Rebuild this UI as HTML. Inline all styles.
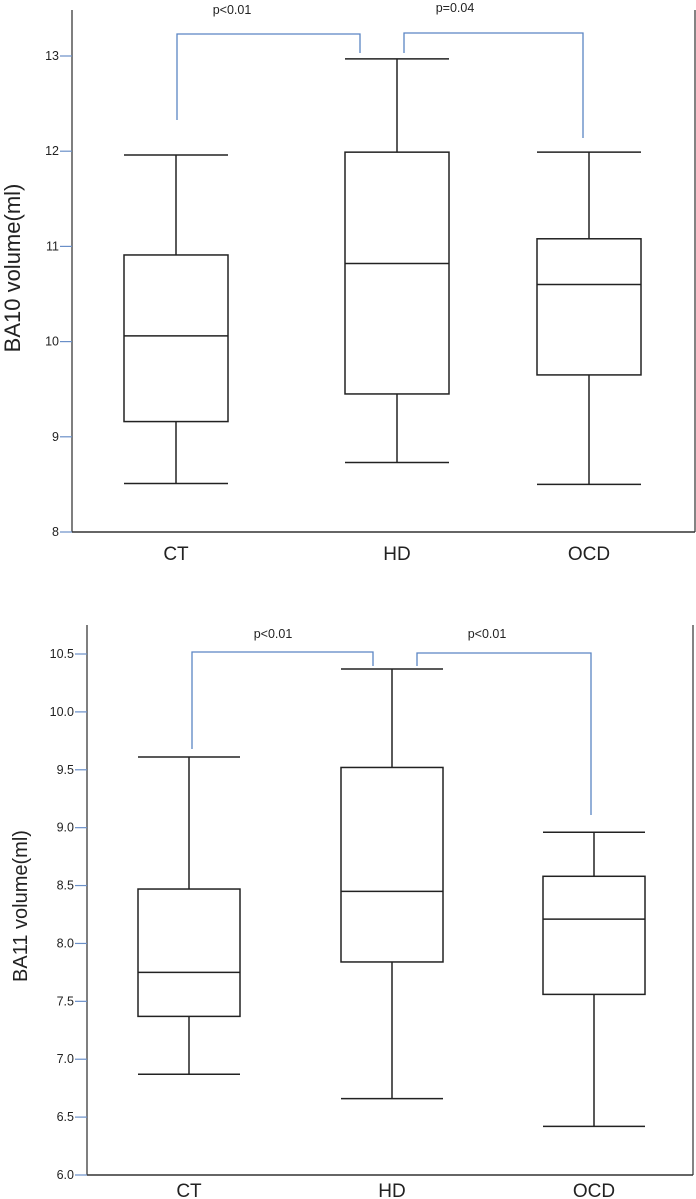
<!DOCTYPE html>
<html><head><meta charset="utf-8"><style>
html,body{margin:0;padding:0;background:#fff;}
svg{display:block;font-family:"Liberation Sans","Noto Sans CJK JP",sans-serif;}
</style></head><body>
<svg id="svg" width="696" height="1199" viewBox="0 0 696 1199"></svg>
<script>
const categories = ["CT","HD","OCD"];
// top chart BA10
const ba10Min = [8.51, 8.73, 8.50];
const ba10Q1 = [9.16, 9.45, 9.65];
const ba10Med = [10.06, 10.82, 10.60];
const ba10Q3 = [10.91, 11.99, 11.08];
const ba10Max = [11.96, 12.97, 11.99];
const ba10Ticks = [8, 9, 10, 11, 12, 13];
// bottom chart BA11
const ba11Min = [6.87, 6.66, 6.42];
const ba11Q1 = [7.37, 7.84, 7.56];
const ba11Med = [7.75, 8.45, 8.21];
const ba11Q3 = [8.47, 9.52, 8.58];
const ba11Max = [9.61, 10.37, 8.96];
const ba11Ticks = [6.0, 6.5, 7.0, 7.5, 8.0, 8.5, 9.0, 9.5, 10.0, 10.5];

const NS = "http://www.w3.org/2000/svg";
const svg = document.getElementById("svg");
function mk(tag, attrs, parent){const e=document.createElementNS(NS,tag);for(const k in attrs)e.setAttribute(k,attrs[k]);(parent||svg).appendChild(e);return e;}

function chart(cfg){
  const g = mk("g",{});
  
  
  const y = v => cfg.y0 + (v - cfg.v0) * (cfg.y1 - cfg.y0) / (cfg.v1 - cfg.v0);
  const ax = mk("line",{x1:cfg.ax,y1:cfg.axTop,x2:cfg.ax,y2:y(cfg.v0),stroke:"#555","stroke-width":1.5},g);
  
  
  const xa = mk("line",{x1:cfg.ax,y1:y(cfg.v0),x2:cfg.right,y2:y(cfg.v0),stroke:"#333","stroke-width":1.5},g);
  
  
  const rb = mk("line",{x1:cfg.right,y1:cfg.axTop,x2:cfg.right,y2:y(cfg.v0),stroke:"#333","stroke-width":1.2},g);
  
  
  cfg.ticks.forEach(t=>{
    const tl = mk("line",{x1:cfg.ax-12,y1:y(t),x2:cfg.ax,y2:y(t),stroke:"#6a8fc8","stroke-width":1.2},g);
    
    
    const tx = mk("text",{x:cfg.ax-13,y:y(t)+4,"text-anchor":"end","font-size":12.5,fill:"#222"},g);
    tx.textContent = cfg.fmt(t);
    
    
  });
  const yt = mk("text",{x:0,y:0,"font-size":cfg.titleSize,fill:"#222","text-anchor":"middle",transform:`translate(${cfg.titleX},${cfg.titleY}) rotate(-90)`},g);
  yt.textContent = cfg.title;
  
  
  categories.forEach((c,i)=>{
    const cx = cfg.cx[i], hw = cfg.hw;
    const b = mk("g",{},g);
    
    
    const s = {stroke:"#222","stroke-width":1.5,fill:"none"};
    mk("line",Object.assign({x1:cx,y1:y(cfg.max[i]),x2:cx,y2:y(cfg.q3[i])},s),b);
    mk("line",Object.assign({x1:cx,y1:y(cfg.q1[i]),x2:cx,y2:y(cfg.min[i])},s),b);
    mk("line",Object.assign({x1:cx-hw,y1:y(cfg.max[i]),x2:cx+hw,y2:y(cfg.max[i])},s),b);
    mk("line",Object.assign({x1:cx-hw,y1:y(cfg.min[i]),x2:cx+hw,y2:y(cfg.min[i])},s),b);
    mk("rect",Object.assign({x:cx-hw,y:y(cfg.q3[i]),width:2*hw,height:y(cfg.q1[i])-y(cfg.q3[i])},s),b);
    mk("line",Object.assign({x1:cx-hw,y1:y(cfg.med[i]),x2:cx+hw,y2:y(cfg.med[i])},s),b);
    const lab = mk("text",{x:cx,y:cfg.labY,"text-anchor":"middle","font-size":19,fill:"#222"},g);
    lab.textContent = c;
    
    
  });
  cfg.brackets.forEach(br=>{
    const p = mk("polyline",{points:`${br[0]},${br[1]} ${br[0]},${br[2]} ${br[3]},${br[2]} ${br[3]},${br[4]}`,stroke:"#5b85c4","stroke-width":1.3,fill:"none"},g);
    
    
    const t = mk("text",{x:br[5],y:br[6],"text-anchor":"middle","font-size":12.5,fill:"#222"},g);
    t.textContent = br[7];
    
    
  });
}

chart({name:"ba10-chart",v0:8,v1:13,y0:532,y1:56,ax:72,axTop:10,right:695,
  ticks:ba10Ticks,fmt:t=>String(t),title:"BA10 volume(ml)",titleX:20,titleY:268,titleSize:22,
  cx:[176,397,589],hw:52,min:ba10Min,q1:ba10Q1,med:ba10Med,q3:ba10Q3,max:ba10Max,labY:560,
  brackets:[[177,120,34,360,53,232,14,"p<0.01"],[404,53,33,583,138,455,12,"p=0.04"]]});

chart({name:"ba11-chart",v0:6,v1:10.5,y0:1175,y1:654,ax:87,axTop:625,right:693,
  ticks:ba11Ticks,fmt:t=>t.toFixed(1),title:"BA11 volume(ml)",titleX:27,titleY:906,titleSize:20,
  cx:[189,392,594],hw:51,min:ba11Min,q1:ba11Q1,med:ba11Med,q3:ba11Q3,max:ba11Max,labY:1197,
  brackets:[[192,749,652,373,666,273,638,"p<0.01"],[417,666,653,591,815,487,638,"p<0.01"]]});
</script>
</body></html>
